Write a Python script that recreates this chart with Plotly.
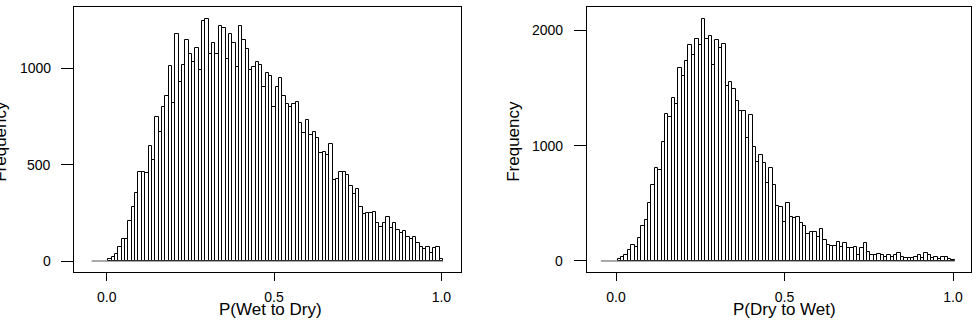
import plotly.graph_objects as go
from plotly.subplots import make_subplots

W, H = 976, 330

# bin centres (width 0.01)
centers = [round(0.01 * (i + 1), 2) for i in range(100)]
bin_start, bin_end = -0.045, 1.005

wet_to_dry = [12, 21, 35, 73, 116, 116, 208, 282, 351, 460,
              460, 455, 597, 524, 749, 668, 801, 856, 1012, 818,
              1178, 930, 1014, 1147, 1074, 1033, 1104, 988, 1242, 1254,
              1074, 1130, 1074, 1216, 1207, 1047, 1178, 1130, 1005, 1216,
              1147, 1098, 991, 1008, 1033, 1014, 901, 977, 960, 801,
              901, 948, 856, 813, 801, 815, 822, 714, 666, 732,
              654, 668, 640, 559, 567, 550, 607, 420, 426, 462,
              460, 446, 389, 348, 372, 282, 242, 251, 247, 254,
              199, 178, 196, 230, 170, 199, 161, 144, 157, 126,
              113, 123, 92, 71, 61, 71, 43, 68, 71, 9]

dry_to_wet = [14, 35, 55, 96, 139, 124, 203, 304, 356, 507,
              657, 805, 790, 1031, 1274, 1248, 1413, 1361, 1673, 1601,
              1737, 1876, 1789, 1928, 1876, 2099, 1925, 1948, 1702, 1913,
              1850, 1882, 1514, 1551, 1491, 1389, 1303, 1303, 1071, 1268,
              993, 857, 921, 848, 675, 805, 660, 481, 472, 342,
              501, 379, 370, 385, 327, 306, 231, 254, 248, 211,
              275, 182, 139, 130, 130, 162, 118, 153, 110, 110,
              124, 52, 110, 153, 81, 49, 49, 58, 49, 38,
              49, 35, 49, 66, 35, 30, 30, 30, 38, 49,
              30, 66, 49, 30, 38, 14, 38, 38, 14, 6]

x_titles = ["P(Wet to Dry)", "P(Dry to Wet)"]
y_title = "Frequency"
x_tickvals = [0, 0.5, 1.0]
x_ticktext = ["0.0", "0.5", "1.0"]
y_ticks_left = [0, 500, 1000]
y_ticks_right = [0, 1000, 2000]

fig = make_subplots(rows=1, cols=2)

for col, vals in ((1, wet_to_dry), (2, dry_to_wet)):
    fig.add_trace(go.Scatter(x=[bin_start, bin_end], y=[0, 0], mode="lines",
                             line=dict(color="#555555", width=1),
                             hoverinfo="skip", showlegend=False), row=1, col=col)
    fig.add_trace(go.Bar(x=centers, y=vals, width=0.01,
                         marker=dict(color="white", line=dict(color="black", width=1)),
                         showlegend=False), row=1, col=col)

font = "Liberation Sans, Arial, sans-serif"
axis_common = dict(showline=True, mirror=True, linecolor="black", linewidth=1,
                   ticks="outside", tickcolor="black", showgrid=False, zeroline=False,
                   tickfont=dict(family=font, size=14, color="black"))

fig.update_xaxes(**axis_common, tickvals=x_tickvals, ticktext=x_ticktext, ticklen=8,
                 ticklabelstandoff=4)
fig.update_yaxes(**axis_common, ticklen=12, showticklabels=False)

fig.update_layout(
    xaxis=dict(domain=[74 / W, 461 / W], range=[-0.0977, 1.0586]),
    xaxis2=dict(domain=[587 / W, 971 / W], range=[-0.0861, 1.0534]),
    yaxis=dict(range=[-57, 1317], tickvals=y_ticks_left),
    yaxis2=dict(range=[-95.5, 2203], tickvals=y_ticks_right),
    width=W, height=H,
    margin=dict(l=0, r=0, t=7, b=58),
    plot_bgcolor="white", paper_bgcolor="white",
    bargap=0,
    font=dict(family=font, color="black"),
)

# y tick labels (horizontal, right-aligned, like R las=1)
for yref, ticks, xr in (("y", y_ticks_left, 52.5), ("y2", y_ticks_right, 564.5)):
    for v in ticks:
        fig.add_annotation(text=str(v), xref="paper", yref=yref, x=xr / W, y=v,
                           xanchor="right", yanchor="middle", showarrow=False,
                           font=dict(family=font, size=14, color="black"))

for i, t in enumerate(x_titles):
    cx = [270.8, 784.5][i]
    fig.add_annotation(text=t, xref="paper", yref="paper", x=cx / W, y=-(309 - 272) / (272 - 7),
                       xanchor="center", yanchor="middle", showarrow=False,
                       font=dict(family=font, size=17, color="black"))
for cx in (0.3, 513.3):
    fig.add_annotation(text=y_title, xref="paper", yref="paper", x=cx / W, y=(272 - 141.5) / (272 - 7),
                       xanchor="center", yanchor="middle", showarrow=False, textangle=-90,
                       font=dict(family=font, size=17, color="black"))

fig.write_html("out.html")
